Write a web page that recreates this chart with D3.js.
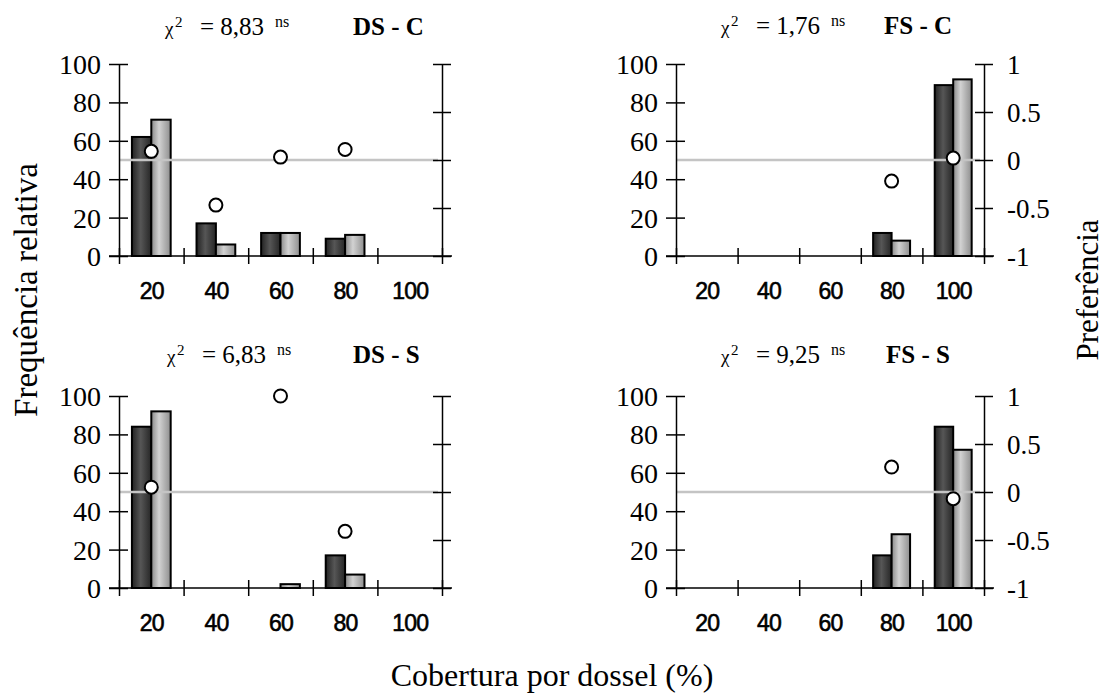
<!DOCTYPE html>
<html>
<head>
<meta charset="utf-8">
<script src="https://cdn.jsdelivr.net/npm/d3@7"></script>
<style>
  body { margin: 0; background: #fff; }
  svg { display: block; }
  text { font-family: "Liberation Serif", "Times New Roman", serif; }
  text.sans { font-family: "Liberation Sans", Arial, sans-serif; }
</style>
</head>
<body>
<svg width="1108" height="696"></svg>
<script>
// data
const categories = [20, 40, 60, 80, 100]
const panelNames = ['DS - C', 'FS - C', 'DS - S', 'FS - S']
const chiValues = ['8,83', '1,76', '6,83', '9,25']
const darkValues = [
  [62, 17, 12, 9, 0],
  [0, 0, 0, 12, 89],
  [84, 0, 0, 17, 0],
  [0, 0, 0, 17, 84]
]
const lightValues = [
  [71, 6, 12, 11, 0],
  [0, 0, 0, 8, 92],
  [92, 0, 2, 7, 0],
  [0, 0, 0, 28, 72]
]
const prefValues = [
  [0.09, -0.47, 0.03, 0.11, null],
  [null, null, null, -0.22, 0.02],
  [0.05, null, 1.0, -0.41, null],
  [null, null, null, 0.26, -0.07]
]
const leftTicks = [0, 20, 40, 60, 80, 100]
const rightTicks = [-1, -0.5, 0, 0.5, 1]
const edgeTicks = [10, 30, 50, 70, 90, 110]

// panel placement
const layout = [
  {left: 119, right: 442, top: 64, bottom: 256, chiX: 165, nameX: 353, titleY: 35, labels: false},
  {left: 676, right: 984, top: 64, bottom: 256, chiX: 721, nameX: 884, titleY: 34, labels: true},
  {left: 119, right: 442, top: 396, bottom: 588, chiX: 167, nameX: 353, titleY: 363, labels: false},
  {left: 676, right: 984, top: 396, bottom: 588, chiX: 721, nameX: 886, titleY: 363, labels: true}
]

const svg = d3.select('svg')
const serif = '"Liberation Serif", "Times New Roman", serif'

const defs = svg.append('defs')
const grad = (id, stops) => {
  const g = defs.append('linearGradient').attr('id', id)
    .attr('x1', '0%').attr('x2', '100%').attr('y1', '0%').attr('y2', '0%')
  stops.forEach(s => g.append('stop').attr('offset', s[0]).attr('stop-color', s[1]))
}
grad('darkGrad', [['0%', '#222'], ['45%', '#565656'], ['100%', '#262626']])
grad('lightGrad', [['0%', '#8a8a8a'], ['40%', '#d2d2d2'], ['100%', '#8e8e8e']])

panelNames.forEach((name, i) => {
  const L = layout[i]
  const x = d3.scaleLinear().domain([10, 110]).range([L.left, L.right])
  const y = d3.scaleLinear().domain([0, 100]).range([L.bottom, L.top])
  const yR = d3.scaleLinear().domain([-1, 1]).range([L.bottom, L.top])
  const barW = (x(30) - x(10)) * 0.3

  const g = svg.append('g')

  // bars
  categories.forEach((c, j) => {
    const dv = darkValues[i][j], lv = lightValues[i][j]
    if (dv > 0) {
      g.append('rect')
        .attr('x', x(c) - barW).attr('y', y(dv))
        .attr('width', barW).attr('height', y(0) - y(dv))
        .attr('fill', 'url(#darkGrad)').attr('stroke', '#000').attr('stroke-width', 2)
    }
    if (lv > 0) {
      g.append('rect')
        .attr('x', x(c)).attr('y', y(lv))
        .attr('width', barW).attr('height', y(0) - y(lv))
        .attr('fill', 'url(#lightGrad)').attr('stroke', '#000').attr('stroke-width', 2)
    }
  })

  // zero line of preference
  g.append('line')
    .attr('x1', x(10)).attr('x2', x(110) - 4)
    .attr('y1', yR(0)).attr('y2', yR(0))
    .attr('stroke', '#c4c4c4').attr('stroke-width', 2.5)

  // left axis
  const ax = g.append('g')
    .attr('transform', `translate(${L.left},0)`)
    .call(d3.axisLeft(y).tickValues(leftTicks).tickSize(10).tickSizeOuter(0).tickPadding(8))
    .attr('font-family', serif).attr('font-size', 28)
  ax.selectAll('.tick line').attr('x1', 9)
  ax.selectAll('.tick text').attr('dy', '0.34em')

  // right axis
  const ar = g.append('g')
    .attr('transform', `translate(${L.right},0)`)
    .call(d3.axisRight(yR).tickValues(rightTicks).tickSize(9).tickSizeOuter(0).tickPadding(14)
      .tickFormat(d => L.labels ? String(d) : ''))
    .attr('font-family', serif).attr('font-size', 27)
  ar.selectAll('.tick line').attr('x1', -9)
  ar.selectAll('.tick text').attr('dy', '0.34em')

  // x axis: edge ticks crossing the line
  const axb = g.append('g')
    .attr('transform', `translate(0,${L.bottom})`)
    .call(d3.axisBottom(x).tickValues(edgeTicks).tickSize(8).tickFormat(''))
  axb.select('.domain').remove()
  axb.selectAll('.tick line').attr('y1', -8)
  g.append('line')
    .attr('x1', x(10) - 10).attr('x2', x(110) + 10)
    .attr('y1', y(0)).attr('y2', y(0))
    .attr('stroke', '#000').attr('stroke-width', 1.5)

  // category labels
  const axl = g.append('g')
    .attr('transform', `translate(0,${L.bottom})`)
    .call(d3.axisBottom(x).tickValues(categories).tickSize(0))
    .attr('font-size', 23)
  axl.select('.domain').remove()
  axl.selectAll('.tick text')
    .attr('class', 'sans')
    .attr('y', 43).attr('dy', 0)
    .style('letter-spacing', '-0.8px')
    .attr('stroke', '#000').attr('stroke-width', 0.6)

  g.selectAll('.domain, .tick line').attr('stroke', '#000').attr('stroke-width', 1.5)

  // preference points
  categories.forEach((c, j) => {
    const p = prefValues[i][j]
    if (p === null) return
    g.append('circle')
      .attr('cx', x(c)).attr('cy', yR(p)).attr('r', 6.5)
      .attr('fill', '#fff').attr('stroke', '#000').attr('stroke-width', 2)
  })

  // title
  const t = g.append('text').attr('y', L.titleY)
  t.append('tspan').attr('x', L.chiX).attr('font-size', 19).text('χ')
  t.append('tspan').attr('x', L.chiX + 10).attr('dy', -8).attr('font-size', 15).text('2')
  t.append('tspan').attr('x', L.chiX + 35).attr('dy', 8).attr('font-size', 25).text('= ' + chiValues[i])
  t.append('tspan').attr('x', L.chiX + 110).attr('dy', -8).attr('font-size', 16).text('ns')
  g.append('text')
    .attr('x', L.nameX).attr('y', L.titleY)
    .attr('font-size', 25).attr('font-weight', 'bold')
    .text(name)
})

// axis titles
svg.append('text')
  .attr('transform', 'translate(37,290) rotate(-90)')
  .attr('text-anchor', 'middle')
  .attr('font-size', 33)
  .text('Frequência relativa')

svg.append('text')
  .attr('transform', 'translate(1098,290) rotate(-90)')
  .attr('text-anchor', 'middle')
  .attr('font-size', 31)
  .text('Preferência')

svg.append('text')
  .attr('x', 552).attr('y', 686)
  .attr('text-anchor', 'middle')
  .attr('font-size', 32)
  .text('Cobertura por dossel (%)')
</script>
</body>
</html>
